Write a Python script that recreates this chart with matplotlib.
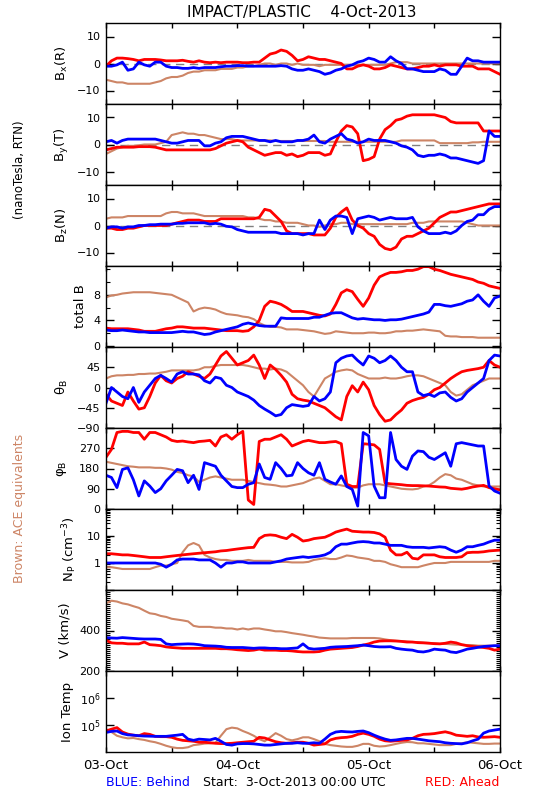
import numpy as np
import matplotlib
matplotlib.use('Agg')
import matplotlib.pyplot as plt
from matplotlib.ticker import FixedLocator, MultipleLocator, LogLocator, NullLocator, NullFormatter, FixedFormatter

plt.rcParams['font.family'] = ['DejaVu Sans']
plt.rcParams['mathtext.default'] = 'regular'

RED = '#FF0000'
BLUE = '#0000FF'
BROWN = '#CD8566'

# ---- data: hourly samples from 03-Oct-2013 00:00 UT (hours 0..72) ----
bx_red = [-1, 1, 2, 2, 1.8, 1.5, 1, 1.5, 1.5, 1.5,
          1.3, 1, 1, 1, 1.2, 0.8, 0.5, 1, 0.5, 0.3,
          0.5, 0.3, 0.5, 0.5, 0.5, 0.3, 0.3, 0.5, 0.5, 2,
          3.5, 4, 5, 4.5, 3, 1, 1.5, 2.5, 2, 1.5,
          1.5, 1, 0.5, 0, -2, -2, -1, -0.5, -1, -2,
          -2, -1.5, -0.5, -1, -1.5, -2, -2, -1.5, -1, -1,
          -0.5, -1, -0.5, -0.5, -0.5, -1, -1, -1, -2, -2,
          -2, -3, -4]
bx_blue = [-1, -1, -0.5, 0.5, -2.5, -2, 0.5, -0.5, -1, 0.5,
           0.5, -1, -1.5, -1.5, -1.8, -1.8, -1.5, -1.8, -1.5, -1.5,
           -1.5, -1.2, -1, -1, -0.8, -0.8, -1, -1, -1, -1,
           -1, -1, -0.8, -1, -2, -2.5, -2.5, -2, -2.5, -3,
           -4, -3.5, -2.5, -2, -1, -0.5, 0.5, 1, 2, 1.5,
           0.5, 0.5, 2.5, 1, 0, -2, -2, -2.5, -3, -3,
           -3, -2, -2.5, -4, -4, -1, 2, 1, 1, 0.5,
           0.5, 0.5, 0.5]
bx_brown = [-6, -6.5, -7, -7, -7.5, -7.5, -7.5, -7.5, -7.5, -7,
            -6.5, -5.5, -5, -5, -4.5, -3.5, -3, -3, -2.5, -2.5,
            -2.5, -2, -2, -2, -1.5, -1.5, -1, -1, -0.5, 0,
            0, -0.5, 0, 0, -0.5, 0, -0.5, -0.5, -0.5, -1,
            -0.5, -0.5, -0.5, -0.5, -0.5, -0.5, -0.5, -0.5, -0.5, -0.5,
            -0.5, -0.5, 0, 0.5, 0.5, 0.5, 0, 0, 0, 0,
            0, 0, 0, 0, 0, 0, 0, 0, 0, 0,
            0, 0, 0]

by_red = [-2, -1.5, -1, -1, -1, -1, -0.8, -0.8, -0.8, -1,
          -1.5, -2, -2, -2, -2, -2, -2, -2, -2, -2,
          -1.5, -0.5, 0.5, 1, 1.5, 1, -1, -2, -3, -4,
          -3.5, -3, -3, -4, -3.5, -4.5, -4, -3, -3, -3,
          -4, -3.5, 1, 5, 7, 6.5, 4, -6, -5.5, -4.5,
          2, 5.5, 7, 9, 9.5, 10.5, 11, 11, 11, 11,
          11, 10.5, 10, 8.5, 8, 8, 8, 8, 8, 5,
          5, 5, 5]
by_blue = [1, 1.5, 0.5, 1.5, 2, 2, 2, 2, 2, 2,
           1.5, 1, 0.5, 0.5, 1, 1.5, 1.5, 1.5, -0.5, -0.5,
           0.5, 1, 2.5, 3, 3, 3, 2.5, 2, 1.5, 1.5,
           1, 1.5, 1, 1, 1, 1.5, 1.5, 2, 3.5, 1,
           0.5, 2, 3, 4, 2, 1.5, 0.5, 1, 2, 1.5,
           1.5, 1.5, 1, 0.5, -0.5, -1, -2, -4, -4.5, -4,
           -4, -3.5, -4, -5, -5, -5.5, -6, -6.5, -7, -6,
           5, 3, 3]
by_brown = [-3.5, -2.5, -1.5, -1, -0.5, -0.5, -0.3, 0, 0, 0,
            0.5, 1, 3.5, 4, 4.5, 4, 4, 3.5, 3.5, 3,
            2.5, 2, 2, 2, 1.5, 1.5, 1.5, 1.5, 1.5, 1.5,
            1.5, 1.3, 1.3, 1.3, 1.3, 1.3, 1.3, 1.3, 1.3, 1.3,
            1.3, 1, 1, 1, 1, 1, 1, 1, 1, 1,
            1, 1, 1, 1, 1.5, 1.5, 1.5, 1.5, 1.5, 1.5,
            1.5, 0.5, 0.5, 0.5, 0.5, 0.5, 0.5, 0.8, 0.8, 1,
            1, 1, 1]

bz_red = [-1, -1, -1.5, -1.5, -1, -1, -0.5, 0, 0, 0,
          0, 0, 0.5, 1, 1.5, 2, 2, 2, 1.5, 1.5,
          1.5, 2.5, 2.5, 2.5, 2.5, 2.5, 2.5, 2.5, 3, 6,
          5.5, 3.5, 1.5, -2, -3, -3, -3, -3, -3.5, -3.5,
          -3.5, -1, 3, 5, 6.5, 2, 0, -1, -3, -4,
          -7, -8.5, -9, -8, -5, -4, -4, -3, -2, -1,
          1, 3, 4, 5, 5, 5.5, 6, 6.5, 7, 7.5,
          8, 8, 8]
bz_blue = [-1, -0.5, -0.5, -1, -0.5, -0.5, 0, 0, 0.3, 0.3,
           0.5, 0.5, 0.5, 0.8, 0.8, 1, 1, 1, 1, 0.5,
           0.8, 0.5, -0.3, -0.5, -1.5, -2, -2.5, -2.5, -2.5, -2.5,
           -2.5, -2.5, -3, -3, -3, -3, -3.5, -3, -3, 2,
           -1.5, 2, 3.5, 3.5, 3, -3, 2.5, 3, 3.5, 3,
           2, 2.5, 3, 2.5, 2.5, 2.5, 3, -0.5, -2, -3,
           -3, -3, -2.5, -3, -2, 0, 1.5, 2, 4, 4,
           6, 7, 7]
bz_brown = [2.5, 3, 3, 3, 3.5, 3.5, 3.5, 3.5, 3.5, 3.5,
            3.5, 4.5, 5, 5, 4.5, 4.5, 4.5, 4, 3.5, 3.5,
            3.5, 3.5, 3.5, 3.5, 3.5, 3.5, 3, 3, 2.5, 2,
            2, 1.5, 1.5, 1, 1, 1, 0.5, 0, 0, -0.5,
            0, 0.5, 0.5, 1, 1, 0.5, 0.5, 0.5, 0.5, 0.5,
            0.5, 0.5, 0.5, 0.5, 0.5, 0.5, 1, 1, 1, 1.5,
            1.5, 1.5, 1.5, 1.5, 1.5, 1.5, 1, 0.5, 0, 0,
            0, 0, 0]

bt_red = [2.8, 2.7, 2.7, 2.7, 2.7, 2.6, 2.5, 2.3, 2.3, 2.3,
          2.5, 2.7, 2.8, 3, 3, 2.9, 2.8, 2.8, 2.8, 2.7,
          2.6, 2.5, 2.4, 2.4, 2.4, 2.3, 2.4, 3, 4, 6.2,
          7, 6.8, 6.5, 6, 5.4, 5.4, 5.4, 5.2, 5, 4.8,
          4.7, 5, 6.5, 8.3, 8.8, 8.5, 7.3, 6.2, 7.5, 9.5,
          10.8, 11.2, 11.5, 11.5, 11.6, 11.8, 11.8, 12, 12.4, 12.4,
          12, 11.8, 11.5, 11.2, 11, 10.8, 10.6, 10.4, 10, 9.8,
          9.4, 9.2, 9]
bt_blue = [2.5, 2.4, 2.4, 2.5, 2.4, 2.3, 2.2, 2.2, 2.1, 2.1,
           2.1, 2.1, 2.1, 2.2, 2.3, 2.2, 2.2, 2, 1.8, 1.9,
           2.2, 2.4, 2.6, 2.8, 3, 3.4, 3.6, 3.4, 3.2, 3.1,
           3.1, 3.1, 4.4, 4.3, 4.3, 4.3, 4.3, 4.3, 4.5, 4.5,
           4.8, 5.1, 5.2, 5.2, 4.8, 4.4, 4.2, 4.3, 4.2, 4.1,
           4.1, 4, 4.1, 4.1, 4.2, 4.4, 4.6, 4.8, 5, 5.3,
           6.5, 6.5, 6.3, 6.2, 6.4, 6.6, 7, 7.2, 8, 7,
           6.2, 7.5, 7.8]
bt_brown = [7.6, 7.9, 8, 8.2, 8.3, 8.4, 8.4, 8.4, 8.4, 8.3,
            8.2, 8.1, 8, 7.6, 7.2, 6.8, 5.4, 5.8, 6, 5.9,
            5.7, 5.3, 5, 4.9, 4.8, 4.6, 4.5, 4.2, 3.6, 3.2,
            3, 3, 2.9, 2.6, 2.6, 2.6, 2.5, 2.4, 2.3, 2.1,
            1.9, 2, 2.3, 2.2, 2.1, 2, 2, 2, 2.1, 2.1,
            2, 2, 2.1, 2.3, 2.3, 2.4, 2.4, 2.5, 2.6, 2.5,
            2.4, 2.3, 1.6, 1.5, 1.5, 1.4, 1.4, 1.4, 1.3, 1.3,
            1.3, 1.3, 1.3]

th_red = [-15, -30, -35, -40, -10, -30, -48, -45, -20, 10,
          27, 15, 10, 20, 25, 35, 30, 25, 20, 30,
          50, 70, 80, 65, 50, 55, 60, 72, 50, 20,
          50, 40, 27, 12, -15, -25, -28, -30, -35, -40,
          -45, -55, -65, -72, -20, 4, -10, 12, -5, -40,
          -60, -75, -72, -60, -50, -35, -29, -25, -22, -15,
          -5, 0, 10, 20, 28, 35, 38, 40, 42, 45,
          60, 50, 45]
th_blue = [-35, 0, -10, -20, -25, 0, -33, -10, 5, 20,
           27, 20, 12, 30, 35, 30, 30, 28, 15, 10,
           23, 20, 5, 0, -10, -15, -20, -28, -40, -48,
           -55, -63, -60, -45, -38, -40, -42, -40, -20, -30,
           -25, -10, 55, 65, 70, 72, 60, 50, 70, 65,
           55, 60, 70, 60, 45, 35, 35, -10, -18, -15,
           -20, -12, -10, -22, -30, -25, -10, 0, 10, 20,
           60, 72, 70]
th_brown = [20, 25, 27, 27, 28, 28, 30, 30, 31, 31,
            33, 35, 38, 38, 38, 38, 38, 40, 45, 45,
            48, 50, 50, 50, 50, 50, 48, 45, 42, 42,
            40, 42, 40, 35, 25, 15, 5, -10, -20, 0,
            20, 27, 35, 38, 40, 38, 30, 25, 20, 20,
            20, 22, 20, 20, 22, 25, 27, 27, 25, 20,
            15, 10, 5, -10, -18, -15, -5, 5, 10, 15,
            20, 20, 20]

ph_red = [230, 265, 340, 345, 345, 340, 340, 310, 340, 340,
          330, 320, 305, 300, 302, 298, 295, 300, 302, 305,
          280, 320, 330, 310, 330, 345, 40, 20, 300, 310,
          310, 320, 330, 310, 280, 290, 300, 305, 300, 295,
          295, 298, 300, 290, 110, 100, 100, 290, 288, 285,
          265, 115, 112, 110, 108, 105, 104, 104, 103, 102,
          100, 98, 97, 92, 90, 88, 92, 98, 102, 105,
          95, 90, 85]
ph_blue = [150, 140, 95, 176, 183, 130, 58, 125, 102, 73,
           90, 125, 150, 176, 170, 117, 150, 87, 206, 198,
           190, 150, 125, 100, 95, 95, 110, 117, 200, 140,
           132, 206, 180, 147, 150, 206, 180, 161, 150, 206,
           132, 120, 110, 147, 100, 87, 13, 340, 325, 102,
           50, 50, 340, 220, 190, 176, 235, 258, 255, 230,
           220, 235, 250, 190, 290, 295, 290, 285, 280, 280,
           102, 80, 70]
ph_brown = [210, 205, 200, 195, 190, 188, 185, 185, 185, 183,
            183, 180, 175, 165, 160, 150, 145, 120, 130, 140,
            145, 140, 135, 130, 130, 130, 125, 120, 115, 110,
            108, 105, 100, 100, 105, 110, 115, 125, 135, 140,
            125, 110, 110, 105, 100, 95, 95, 105, 110, 110,
            110, 105, 100, 95, 90, 88, 87, 90, 100, 105,
            120, 140, 155, 150, 135, 130, 120, 110, 105, 100,
            100, 100, 100]

np_red = [2.2, 2.2, 2.1, 2, 2, 1.9, 1.8, 1.7, 1.6, 1.6,
          1.6, 1.7, 1.8, 1.9, 2, 2.1, 2.2, 2.3, 2.4, 2.5,
          2.6, 2.8, 2.9, 3.1, 3.3, 3.5, 3.7, 3.8, 8, 10.5,
          11, 10.5, 9, 8, 11.5, 9, 6.5, 7, 8, 8.5,
          9, 11, 14, 16, 18, 15, 14.5, 14, 14, 13.5,
          12, 9, 3, 2, 2, 2.5, 1.5, 1.4, 2, 2,
          2, 1.7, 1.6, 1.6, 1.6, 1.7, 2.4, 2.5, 2.5, 2.6,
          2.8, 2.9, 3]
np_blue = [1, 1, 1, 1, 1, 1, 1, 1, 1, 1,
           0.9, 0.7, 0.9, 1.3, 1.4, 1.4, 1.4, 1.3, 1.3, 1.3,
           1, 0.7, 1, 1, 1.1, 1.1, 1, 1, 1, 1,
           1, 1.1, 1.2, 1.4, 1.5, 1.6, 1.7, 1.6, 1.7, 1.8,
           2, 2.5, 4, 5, 5, 5.5, 6, 6.2, 6, 5.5,
           5.5, 5, 4.5, 4.5, 4.5, 4, 3.8, 3.8, 3.8, 3.6,
           3.8, 4, 3.8, 3, 2.5, 3, 4, 4, 4.5, 5,
           6, 7, 7]
np_brown = [0.7, 0.7, 0.65, 0.6, 0.6, 0.6, 0.6, 0.6, 0.6, 0.7,
            0.8, 0.8, 0.9, 1, 2.5, 4.5, 5.5, 4.5, 2, 1.6,
            1.4, 1.3, 1.3, 1.2, 1.2, 1.2, 1.3, 1.2, 1.2, 1.2,
            1.2, 1.1, 1.1, 1.1, 1.05, 1.05, 1.05, 1.1, 1.3, 1.4,
            1.5, 1.4, 1.4, 1.6, 1.9, 1.8, 1.6, 1.5, 1.4, 1.2,
            1.2, 1.1, 0.9, 0.8, 0.7, 0.7, 0.7, 0.7, 0.8, 0.9,
            1, 1, 1, 1.1, 1.1, 1.1, 1.1, 1.1, 1.1, 1.1,
            1.1, 1.2, 1.2]

v_red = [352, 339, 337, 337, 334, 334, 334, 343, 330, 328,
         325, 319, 316, 314, 312, 312, 312, 312, 312, 312,
         312, 310, 310, 308, 305, 303, 301, 303, 308, 303,
         303, 303, 301, 301, 299, 296, 294, 294, 294, 296,
         303, 308, 310, 312, 314, 316, 321, 328, 334, 343,
         348, 349, 349, 348, 346, 343, 343, 340, 339, 337,
         335, 334, 337, 343, 339, 330, 325, 321, 319, 316,
         312, 303, 308]
v_blue = [365, 363, 362, 365, 363, 361, 359, 358, 358, 358,
          356, 334, 330, 332, 333, 334, 333, 330, 325, 324,
          323, 321, 317, 316, 316, 316, 314, 312, 314, 314,
          312, 312, 310, 310, 312, 314, 334, 312, 308, 310,
          312, 317, 319, 320, 321, 323, 325, 328, 325, 321,
          319, 319, 320, 312, 308, 305, 303, 296, 294, 299,
          308, 305, 303, 294, 291, 299, 308, 312, 317, 321,
          323, 325, 325]
v_brown = [534, 547, 543, 534, 529, 520, 512, 498, 485, 481,
           472, 467, 458, 454, 450, 445, 423, 418, 418, 418,
           414, 414, 410, 410, 405, 410, 405, 410, 410, 405,
           401, 396, 396, 392, 387, 383, 379, 374, 370, 365,
           363, 361, 361, 361, 361, 363, 363, 363, 363, 363,
           361, 356, 352, 349, 348, 346, 343, 343, 340, 339,
           337, 334, 334, 332, 330, 330, 328, 328, 325, 325,
           325, 325, 325]

t_red = [60000, 70000, 80000, 55000, 46000, 42000, 40000, 48000, 45000, 38000,
         37000, 37000, 35000, 30000, 27000, 26000, 25000, 23000, 23000, 22000,
         21000, 20500, 20500, 21000, 22000, 23000, 24000, 25000, 35000, 33000,
         28000, 24000, 22000, 21000, 22000, 23000, 23000, 21000, 18000, 19000,
         20000, 28000, 32000, 34000, 35000, 38000, 45000, 50000, 45000, 38000,
         30000, 26000, 25000, 26000, 27000, 28000, 32000, 40000, 45000, 46000,
         48000, 52000, 56000, 50000, 42000, 40000, 38000, 40000, 36000, 35000,
         36000, 37000, 35000]
t_blue = [53000, 58000, 60000, 48000, 43000, 42000, 40000, 39000, 38500, 38000,
          38000, 38000, 40000, 42000, 45000, 30000, 27000, 30000, 29000, 28000,
          32000, 25000, 19000, 18000, 20000, 20500, 20500, 20000, 19000, 18000,
          18000, 19000, 20000, 21000, 21000, 22000, 21000, 21000, 22000, 21000,
          30000, 45000, 55000, 58000, 56000, 55000, 58000, 60000, 52000, 42000,
          35000, 30000, 27000, 28000, 30000, 32000, 32000, 30000, 28000, 26000,
          25000, 24000, 22000, 21000, 20500, 20000, 22000, 26000, 30000, 50000,
          60000, 65000, 70000]
t_brown = [70000, 55000, 40000, 35000, 32000, 33000, 30000, 28000, 25000, 23000,
           20000, 17000, 15000, 14000, 14000, 15000, 18000, 19000, 20500, 21000,
           22000, 40000, 70000, 80000, 75000, 60000, 50000, 40000, 30000, 25000,
           35000, 50000, 40000, 30000, 27000, 30000, 35000, 35000, 30000, 25000,
           20000, 18000, 17000, 16000, 15500, 15500, 17000, 20000, 20000, 17000,
           16000, 16500, 18000, 20000, 22000, 23500, 23000, 21000, 21000, 20000,
           19000, 18000, 18000, 18000, 20000, 21000, 23000, 22000, 21000, 20000,
           20000, 20500, 20500]

date_labels = ['03-Oct', '', '04-Oct', '', '05-Oct', '', '06-Oct']

# ---- layout ----
W, H = 550, 800
X0, X1 = 106, 500
TOP0, PH = 23, 81

fig = plt.figure(figsize=(W / 100, H / 100), dpi=100)

panels = [
    dict(lab='B$_x$(R)', lx=62, ylim=(-15, 15), yt=[-10, 0, 10], ytl=['\u221210', '0', '10'],
         d=(bx_brown, bx_red, bx_blue), zero=True),
    dict(lab='B$_y$(T)', lx=62, ylim=(-15, 15), yt=[-10, 0, 10], ytl=['\u221210', '0', '10'],
         d=(by_brown, by_red, by_blue), zero=True),
    dict(lab='B$_z$(N)', lx=62, ylim=(-15, 15), yt=[-10, 0, 10], ytl=['\u221210', '0', '10'],
         d=(bz_brown, bz_red, bz_blue), zero=True),
    dict(lab='total B', lx=80, ylim=(-0.15, 12.5), yt=[0, 4, 8], ytl=['0', '4', '8'],
         d=(bt_brown, bt_red, bt_blue), minor=2),
    dict(lab='\u03b8$_B$', lx=62, ylim=(-90, 90), yt=[-90, -45, 0, 45, 90], ytl=['\u221290', '\u221245', '0', '45', ''],
         d=(th_brown, th_red, th_blue)),
    dict(lab='\u03c6$_B$', lx=62, ylim=(0, 360), yt=[0, 90, 180, 270, 360], ytl=['0', '90', '180', '270', ''],
         d=(ph_brown, ph_red, ph_blue)),
    dict(lab='N$_P$ (cm$^{-3}$)', lx=70, ylim=(0.1, 100), yt=[1, 10], ytl=['1', '10'],
         d=(np_brown, np_red, np_blue), log=True),
    dict(lab='V (km/s)', lx=65, ylim=(200, 600), yt=[200, 400, 600], ytl=['200', '400', ''],
         d=(v_brown, v_red, v_blue), minor=10),
    dict(lab='Ion Temp', lx=67, ylim=(1e4, 1e7), yt=[1e5, 1e6], ytl=['10$^5$', '10$^6$'],
         d=(t_brown, t_red, t_blue), log=True, nominor=True),
]

for i, p in enumerate(panels):
    top = TOP0 + i * PH
    ax = fig.add_axes([X0 / W, 1 - (top + PH) / H, (X1 - X0) / W, PH / H])
    if p.get('log'):
        ax.set_yscale('log')
    ax.set_xlim(0, 72)
    ax.set_ylim(*p['ylim'])
    if p.get('zero'):
        ax.axhline(0, color='#808080', lw=1.0, ls=(0, (6, 4)), zorder=1)
    for series, col, lw in zip(p['d'], (BROWN, RED, BLUE), (1.5, 2.0, 2.0)):
        t = np.linspace(0, 72, len(series))
        ax.plot(t, series, color=col, lw=lw, zorder=2)
    ax.yaxis.set_major_locator(FixedLocator(p['yt']))
    ax.yaxis.set_major_formatter(FixedFormatter(p['ytl']))
    if p.get('log'):
        if p.get('nominor'):
            ax.yaxis.set_minor_locator(NullLocator())
        else:
            ax.yaxis.set_minor_locator(LogLocator(base=10, subs=np.arange(2, 10)))
        ax.yaxis.set_minor_formatter(NullFormatter())
    elif p.get('minor'):
        ax.yaxis.set_minor_locator(MultipleLocator(p['minor']))
    ax.set_xticks(np.arange(0, 73, 12))
    if i == len(panels) - 1:
        ax.set_xticklabels(date_labels, fontsize=9.5)
    else:
        ax.set_xticklabels([])
    ax.tick_params(axis='x', which='major', direction='in', top=True, bottom=True, length=3.5, width=1, pad=5)
    ax.tick_params(axis='y', which='major', direction='in', left=True, right=True, length=6, width=1, labelsize=8, pad=4)
    ax.tick_params(axis='y', which='minor', direction='in', left=True, right=True, length=3, width=0.8)
    for s in ax.spines.values():
        s.set_linewidth(1.0)
    cy = top + PH / 2
    fig.text(p['lx'] / W, 1 - cy / H, p['lab'], rotation=90, ha='center', va='center', fontsize=9.5)

fig.text(302 / W, 1 - 12 / H, 'IMPACT/PLASTIC    4-Oct-2013', ha='center', va='center', fontsize=11)
fig.text(20 / W, 1 - 170 / H, '(nanoTesla, RTN)', rotation=90, ha='center', va='center', fontsize=8.5)
fig.text(20 / W, 1 - 508 / H, 'Brown: ACE equivalents', rotation=90, ha='center', va='center', fontsize=9,
         color=BROWN)
fig.text(106 / W, 1 - 783 / H, 'BLUE: Behind', ha='left', va='center', fontsize=9, color=BLUE)
fig.text(203 / W, 1 - 783 / H, 'Start:  3-Oct-2013 00:00 UTC', ha='left', va='center', fontsize=9)
fig.text(499 / W, 1 - 783 / H, 'RED: Ahead', ha='right', va='center', fontsize=9, color=RED)

fig.savefig('out.png', dpi=100, facecolor='white')
